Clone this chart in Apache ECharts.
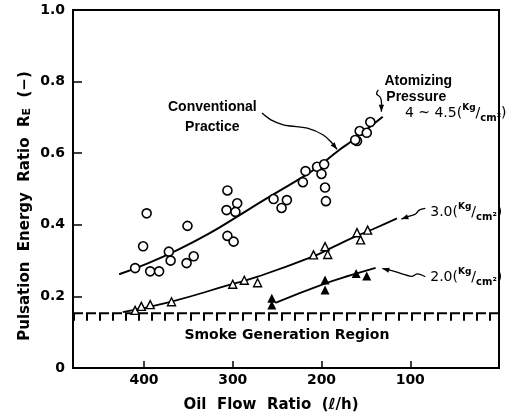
<!DOCTYPE html>
<html>
<head>
<meta charset="utf-8">
<script src="https://cdn.jsdelivr.net/npm/echarts@6/dist/echarts.min.js"></script>
<style>html,body{margin:0;padding:0;background:#fff}#c{width:506px;height:418px}</style>
</head>
<body>
<div id="c"></div>
<script>
// ---- data (x: oil flow ratio l/h, y: pulsation energy ratio) ----
const xTicks = [100, 200, 300, 400];
const yTicks = [0, 0.2, 0.4, 0.6, 0.8, 1.0];

// Conventional practice, 4~4.5 kg/cm2 (open circles)
const circlesX = [410, 397, 401, 393, 383, 372, 370, 351, 352, 344, 306, 307, 295, 297, 306, 299, 254, 239, 245, 221, 218, 205, 197, 200, 196, 195, 160, 162, 157, 149, 145];
const circlesY = [0.279, 0.432, 0.340, 0.270, 0.270, 0.325, 0.300, 0.397, 0.293, 0.312, 0.496, 0.441, 0.460, 0.436, 0.369, 0.353, 0.472, 0.469, 0.447, 0.519, 0.550, 0.562, 0.569, 0.542, 0.504, 0.466, 0.634, 0.637, 0.662, 0.657, 0.687];
const curve45X = [428, 400, 362, 325, 295, 265, 227, 209, 180, 167, 131];
const curve45Y = [0.262, 0.288, 0.330, 0.378, 0.423, 0.469, 0.525, 0.553, 0.609, 0.632, 0.702];

// 3.0 kg/cm2 (open triangles)
const tri30X = [410, 403, 393, 369, 300, 287, 272, 209, 196, 193, 160, 156, 148];
const tri30Y = [0.161, 0.172, 0.177, 0.185, 0.234, 0.245, 0.238, 0.316, 0.339, 0.317, 0.378, 0.358, 0.385];
const curve30X = [424, 370, 304, 272, 210, 186, 164, 141, 115];
const curve30Y = [0.156, 0.185, 0.232, 0.255, 0.311, 0.339, 0.365, 0.389, 0.418];

// 2.0 kg/cm2 (filled triangles)
const tri20X = [256, 256, 196, 196, 161, 149];
const tri20Y = [0.195, 0.176, 0.246, 0.218, 0.264, 0.257];
const curve20X = [252, 197, 166, 139];
const curve20Y = [0.182, 0.235, 0.260, 0.280];

// smoke generation limit
const smokeLevel = 0.153;
const xRange = [0, 480];

// annotation anchors (data units)
const arrowConv = [[267, 0.712], [257, 0.693], [243, 0.679], [235, 0.676], [216, 0.670], [198, 0.651], [188, 0.628], [182.5, 0.611]];
const arrowAtom = [[136, 0.777], [138, 0.766], [134, 0.757], [132.5, 0.745], [132.5, 0.716]];
const arrow30 = [[83, 0.446], [90, 0.441], [94, 0.430], [100, 0.425], [110, 0.416]];
const arrow20 = [[83, 0.255], [92, 0.263], [98, 0.256], [117, 0.269], [131.5, 0.278]];

const zip = (xs, ys) => xs.map((x, i) => [x, ys[i]]);

const FONT = '"DejaVu Sans", sans-serif';
const FONT2 = '"Liberation Sans", Arial, sans-serif';
const chart = echarts.init(document.getElementById('c'), null, {renderer: 'canvas'});

chart.setOption({
  animation: false,
  backgroundColor: '#fff',
  grid: {left: 73, right: 7, top: 10, bottom: 50, show: true, borderColor: '#000', borderWidth: 2},
  xAxis: {
    type: 'value', min: xRange[0], max: xRange[1], interval: 100, inverse: true,
    axisLine: {onZero: false, lineStyle: {color: '#000', width: 2}},
    axisTick: {inside: true, length: 7, lineStyle: {color: '#000', width: 1.5}, customValues: xTicks},
    axisLabel: {customValues: xTicks, color: '#000', fontFamily: FONT, fontWeight: 'bold', fontSize: 14, margin: 5},
    splitLine: {show: false}
  },
  yAxis: {
    type: 'value', min: 0, max: 1, interval: 0.2,
    axisLine: {onZero: false, lineStyle: {color: '#000', width: 2}},
    axisTick: {inside: true, length: 9, lineStyle: {color: '#000', width: 1.5}},
    axisLabel: {color: '#000', fontFamily: FONT, fontWeight: 'bold', fontSize: 14, margin: 8,
      formatter: v => v === 0 ? '0' : v.toFixed(1)},
    splitLine: {show: false}
  },
  series: [
    {type: 'line', data: [[xRange[1], smokeLevel], [xRange[0], smokeLevel]], symbol: 'none', silent: true,
      lineStyle: {color: '#000', width: 2, type: [10, 3]}, z: 1},
    {type: 'line', data: [[xRange[1], smokeLevel - 0.011], [xRange[0], smokeLevel - 0.011]], symbol: 'none', silent: true,
      lineStyle: {color: '#000', width: 7, type: [2, 11]}, z: 1},
    {type: 'line', data: zip(curve45X, curve45Y), smooth: true, symbol: 'none', lineStyle: {color: '#000', width: 2}, z: 2},
    {type: 'line', data: zip(curve30X, curve30Y), smooth: true, symbol: 'none', lineStyle: {color: '#000', width: 1.8}, z: 2},
    {type: 'line', data: zip(curve20X, curve20Y), smooth: true, symbol: 'none', lineStyle: {color: '#000', width: 1.8}, z: 2},
    {type: 'scatter', data: zip(circlesX, circlesY), symbol: 'circle', symbolSize: 9,
      itemStyle: {color: '#fff', borderColor: '#000', borderWidth: 1.6, opacity: 1}, z: 3},
    {type: 'scatter', data: zip(tri30X, tri30Y), symbol: 'triangle', symbolSize: 8,
      itemStyle: {color: '#fff', borderColor: '#000', borderWidth: 1.4, opacity: 1}, z: 3},
    {type: 'scatter', data: zip(tri20X, tri20Y), symbol: 'triangle', symbolSize: 9,
      itemStyle: {color: '#000', opacity: 1}, z: 3}
  ]
});

const toPx = p => chart.convertToPixel({gridIndex: 0}, p);

function arrowEls(pts) {
  const px = pts.map(toPx);
  const tip = px[px.length - 1], prev = px[px.length - 2];
  const dx = tip[0] - prev[0], dy = tip[1] - prev[1];
  const L = Math.hypot(dx, dy) || 1;
  const ux = dx / L, uy = dy / L;
  const len = 7, w = 2.6;
  const bx = tip[0] - ux * len, by = tip[1] - uy * len;
  return [
    {type: 'polyline', shape: {points: px, smooth: 0.35}, style: {stroke: '#000', lineWidth: 1.3, fill: null}, z: 10},
    {type: 'polygon', shape: {points: [tip, [bx - uy * w, by + ux * w], [bx + uy * w, by - ux * w]]}, style: {fill: '#000'}, z: 10}
  ];
}

function textAt(p, text, opts) {
  const q = toPx(p);
  return {type: 'text', x: q[0], y: q[1], z: 11,
    style: Object.assign({text: text, fill: '#000', font: 'bold 14px ' + FONT, align: 'left', verticalAlign: 'middle'}, opts || {})};
}

const unitRich = {
  a: {fontSize: 9, fontWeight: 'bold', fontFamily: FONT, verticalAlign: 'top', lineHeight: 20, fill: '#000'},
  b: {fontSize: 10, fontWeight: 'bold', fontFamily: FONT, verticalAlign: 'bottom', lineHeight: 16, fill: '#000'}
};

const els = [].concat(
  arrowEls(arrowConv), arrowEls(arrowAtom), arrowEls(arrow30), arrowEls(arrow20),
  [
    textAt([323, 0.702], 'Conventional\nPractice', {align: 'center', font: 'bold 14px ' + FONT2, lineHeight: 20}),
    textAt([129, 0.800], 'Atomizing', {font: 'bold 14px ' + FONT2}),
    textAt([127, 0.757], 'Pressure', {font: 'bold 14px ' + FONT2}),
    textAt([106, 0.712], '4 ~ 4.5({a|Kg}/{b|cm²})', {font: '14px ' + FONT, lineHeight: 20, rich: unitRich}),
    textAt([77.5, 0.436], '3.0({a|Kg}/{b|cm²})', {font: '14px ' + FONT, lineHeight: 20, rich: unitRich}),
    textAt([77.5, 0.254], '2.0({a|Kg}/{b|cm²})', {font: '14px ' + FONT, lineHeight: 20, rich: unitRich}),
    textAt([239, 0.092], 'Smoke Generation Region', {align: 'center', font: 'bold 14px ' + FONT}),
    {type: 'text', x: 271, y: 405, z: 11, style: {text: 'Oil  Flow  Ratio  (ℓ/h)', fill: '#000', font: 'bold 15px ' + FONT, align: 'center', verticalAlign: 'middle'}},
    {type: 'text', x: 25, y: 206, rotation: Math.PI / 2, z: 11,
      style: {text: 'Pulsation  Energy  Ratio  R{s|E}  (−)', fill: '#000', font: 'bold 15px ' + FONT, align: 'center', verticalAlign: 'middle',
        rich: {s: {fontSize: 11, fontWeight: 'bold', fontFamily: FONT, fill: '#000', verticalAlign: 'bottom', lineHeight: 16}}}}
  ]
);

chart.setOption({graphic: {elements: els}});
</script>
</body>
</html>
